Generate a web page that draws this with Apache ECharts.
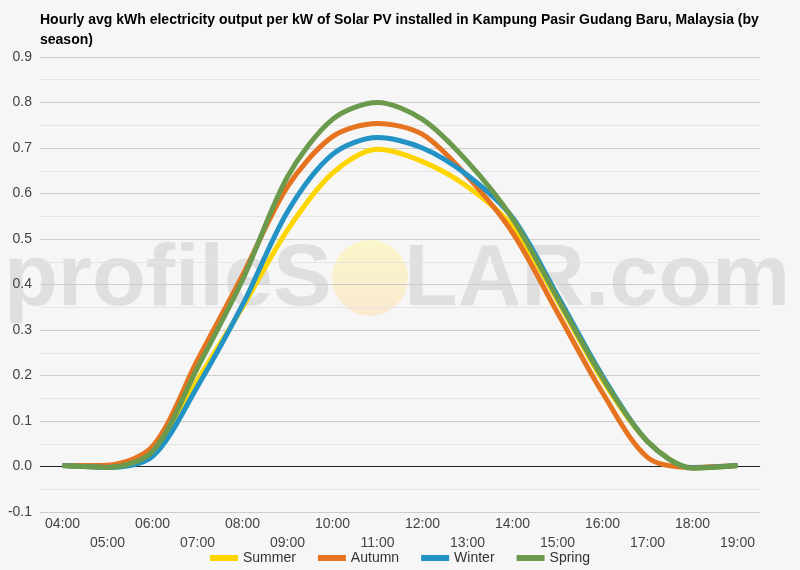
<!DOCTYPE html>
<html>
<head>
<meta charset="utf-8">
<script src="https://cdn.jsdelivr.net/npm/echarts@6/dist/echarts.min.js"></script>
<style>
  html, body { margin: 0; padding: 0; background: #f6f6f6; }
  #app { width: 800px; height: 570px; }
</style>
</head>
<body>
<div id="app"></div>
<script>
const hours = ['04:00', '05:00', '06:00', '07:00', '08:00', '09:00', '10:00', '11:00',
  '12:00', '13:00', '14:00', '15:00', '16:00', '17:00', '18:00', '19:00'];
const summer = [0.002, -0.002, 0.025, 0.19, 0.35, 0.52, 0.645, 0.697, 0.67, 0.615, 0.528, 0.365, 0.19, 0.055, -0.003, 0.002];
const autumn = [0.002, 0.003, 0.044, 0.234, 0.42, 0.615, 0.725, 0.754, 0.73, 0.637, 0.514, 0.338, 0.162, 0.02, -0.002, 0.002];
const winter = [0.002, -0.002, 0.022, 0.176, 0.355, 0.56, 0.686, 0.723, 0.70, 0.64, 0.547, 0.376, 0.199, 0.055, -0.003, 0.002];
const spring = [0.002, -0.002, 0.033, 0.217, 0.41, 0.637, 0.763, 0.80, 0.763, 0.67, 0.545, 0.37, 0.195, 0.055, -0.004, 0.002];

const seasons = [
  { name: 'Summer', data: summer, color: '#fdd600' },
  { name: 'Autumn', data: autumn, color: '#e6731f' },
  { name: 'Winter', data: winter, color: '#2293c4' },
  { name: 'Spring', data: spring, color: '#6b9a4c' }
];

const chart = echarts.init(document.getElementById('app'));

// watermark text style
const wmStyle = {
  fill: 'rgba(190,190,190,0.4)',
  font: 'bold 88px "Liberation Sans", Arial, sans-serif'
};

chart.setOption({
  animation: false,
  backgroundColor: '#f6f6f6',
  textStyle: { fontFamily: '"Liberation Sans", Arial, sans-serif' },
  title: {
    text: 'Hourly avg kWh electricity output per kW of Solar PV installed in Kampung Pasir Gudang Baru, Malaysia (by\nseason)',
    left: 35,
    top: 5,
    textStyle: { fontSize: 14, fontWeight: 'bold', color: '#000', lineHeight: 20 }
  },
  graphic: [
    {
      type: 'circle', z: -1, silent: true,
      shape: { cx: 370, cy: 278, r: 38 },
      style: {
        fill: {
          type: 'linear', x: 0, y: 0, x2: 0, y2: 1,
          colorStops: [
            { offset: 0, color: 'rgba(252,246,190,0.8)' },
            { offset: 1, color: 'rgba(250,230,200,0.8)' }
          ]
        }
      }
    },
    {
      type: 'text', z: -1, silent: true,
      left: 4, top: 237,
      style: Object.assign({ text: 'profileS' }, wmStyle)
    },
    {
      type: 'text', z: -1, silent: true,
      left: 404, top: 237,
      style: Object.assign({ text: 'LAR.com' }, wmStyle)
    }
  ],
  legend: {
    bottom: 0,
    left: 'center',
    icon: 'rect',
    itemWidth: 28,
    itemHeight: 6,
    itemGap: 22,
    textStyle: { fontSize: 14, color: '#333' },
    data: seasons.map(s => s.name)
  },
  grid: { left: 40, right: 40, top: 57, bottom: 58 },
  xAxis: {
    type: 'category',
    data: hours,
    boundaryGap: true,
    axisLine: { show: true, lineStyle: { color: '#ccc' } },
    axisTick: { show: false },
    axisLabel: {
      interval: 0,
      color: '#444',
      fontSize: 14,
      lineHeight: 19,
      margin: 3,
      formatter: (v, i) => (i % 2 ? '\n' + v : v)
    }
  },
  yAxis: {
    type: 'value',
    min: -0.1,
    max: 0.9,
    interval: 0.1,
    axisLine: { show: false },
    axisTick: { show: false },
    axisLabel: {
      color: '#444',
      fontSize: 14,
      margin: 8,
      formatter: v => v.toFixed(1)
    },
    splitLine: { lineStyle: { color: '#ccc' } },
    minorTick: { show: false, splitNumber: 2 },
    minorSplitLine: { show: true, lineStyle: { color: '#e4e4e4' } }
  },
  series: seasons.map((s, i) => ({
    name: s.name,
    type: 'line',
    data: s.data,
    smooth: 0.3,
    symbol: 'none',
    color: s.color,
    lineStyle: { width: 5, color: s.color },
    z: 2 + i,
    markLine: i === 0 ? {
      silent: true,
      symbol: 'none',
      label: { show: false },
      lineStyle: { color: '#222', width: 1, type: 'solid' },
      data: [{ yAxis: 0 }],
      z: 1
    } : undefined
  }))
});
</script>
</body>
</html>
